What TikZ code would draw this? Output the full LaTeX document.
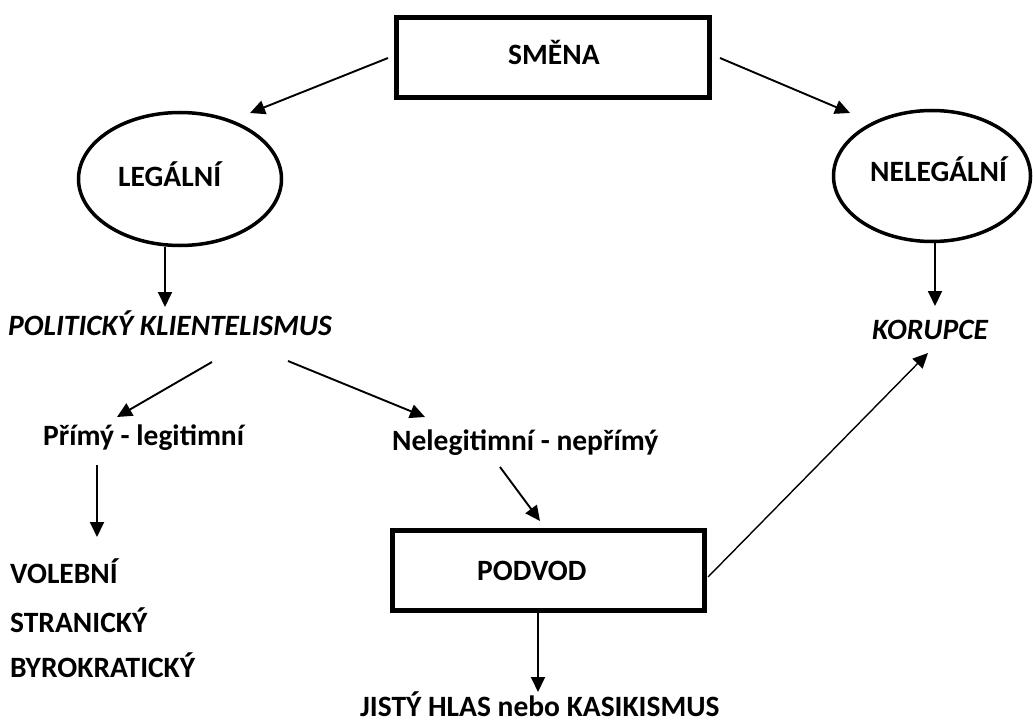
\documentclass[tikz,border=0pt]{standalone}
\usepackage{fontspec}
\setmainfont{Carlito}
\usetikzlibrary{arrows.meta,shapes.geometric}
\tikzset{
  lbl/.style={font=\fontsize{29.5}{34}\selectfont\bfseries, inner sep=0pt, anchor=base west},
  ilbl/.style={font=\fontsize{29.5}{34}\selectfont\bfseries\itshape, inner sep=0pt, anchor=base west},
  boxnode/.style={draw, line width=5pt, minimum width=313pt, minimum height=80pt, inner sep=0pt},
  ellnode/.style={draw, ellipse, line width=3.5pt, inner sep=0pt},
  arr/.style={line width=1.9pt, -{Triangle[length=15pt,width=14pt]}}
}
\begin{document}
\begin{tikzpicture}[x=1pt,y=-1pt]
\useasboundingbox (0,0) rectangle (1033,722);
% boxes and ellipses
\node[boxnode] (smena) at (553,58) {};
\node[ellnode, minimum width=203pt, minimum height=133pt] (leg) at (180,179) {};
\node[ellnode, minimum width=197pt, minimum height=131pt] (neleg) at (932,176) {};
\node[boxnode, minimum width=312pt, minimum height=80pt] (pod) at (548,570) {};
% texts
\node[lbl] (smenat) at (508,65) {SMĚNA};
\node[lbl] (legt) at (118,187) {LEGÁLNÍ};
\node[lbl] (negt) at (870,182) {NELEGÁLNÍ};
\node[ilbl] (pk) at (8,335) {POLITICKÝ KLIENTELISMUS};
\node[ilbl] (kor) at (872,339) {KORUPCE};
\node[lbl] (prim) at (43,445) {Přímý - legitimní};
\node[lbl] (nel) at (392,450) {Nelegitimní - nepřímý};
\node[lbl] (vol) at (10,583) {VOLEBNÍ};
\node[lbl] (str) at (10,632) {STRANICKÝ};
\node[lbl] (byr) at (10,677) {BYROKRATICKÝ};
\node[lbl] (podt) at (477,580) {PODVOD};
\node[lbl] (jis) at (360,716) {JISTÝ HLAS nebo KASIKISMUS};
% connector end points
\coordinate (a1s) at (388,58);
\coordinate (a1e) at (250,113);
\coordinate (a2s) at (720,58);
\coordinate (a2e) at (850,113);
\coordinate (a3s) at (165,247);
\coordinate (a3e) at (165,307);
\coordinate (a4s) at (935,243);
\coordinate (a4e) at (935,306);
\coordinate (a5s) at (212,362);
\coordinate (a5e) at (117,417);
\coordinate (a6s) at (288,361);
\coordinate (a6e) at (425,417);
\coordinate (a7s) at (97,465);
\coordinate (a7e) at (97,537);
\coordinate (a8s) at (500,467);
\coordinate (a8e) at (540,521);
\coordinate (a9s) at (538,611);
\coordinate (a9e) at (538,692);
\coordinate (a10s) at (708,577);
\coordinate (a10e) at (928,353);
% connectors
\draw[arr] (a1s) -- (a1e);
\draw[arr] (a2s) -- (a2e);
\draw[arr] (a3s) -- (a3e);
\draw[arr] (a4s) -- (a4e);
\draw[arr] (a5s) -- (a5e);
\draw[arr] (a6s) -- (a6e);
\draw[arr] (a7s) -- (a7e);
\draw[arr] (a8s) -- (a8e);
\draw[arr] (a9s) -- (a9e);
\draw[arr, line width=1.4pt] (a10s) -- (a10e);
\end{tikzpicture}
\end{document}
